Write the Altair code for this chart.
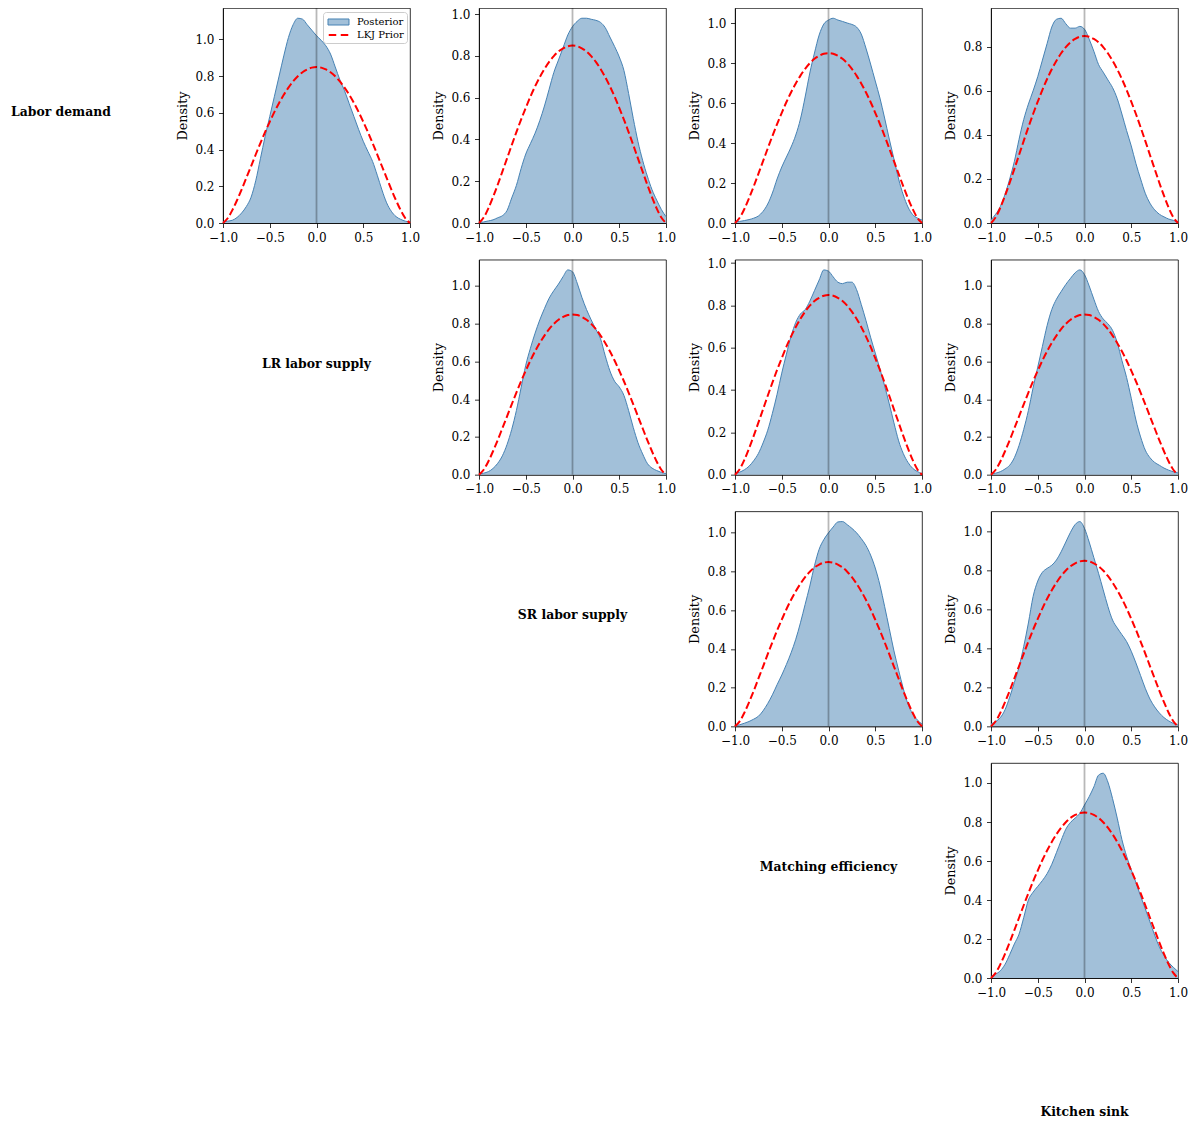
import altair as alt
import pandas as pd

# ---------------- data ----------------
x_grid = [round(-1 + 0.05 * i, 2) for i in range(41)]

variables = ["Labor demand", "LR labor supply", "SR labor supply",
             "Matching efficiency", "Kitchen sink"]

# LKJ prior marginal density (same in every panel)
prior = [0.0, 0.026, 0.070, 0.124, 0.183, 0.246, 0.309, 0.373, 0.435, 0.495,
         0.551, 0.605, 0.654, 0.698, 0.737, 0.771, 0.799, 0.821, 0.836, 0.846,
         0.849,
         0.846, 0.836, 0.821, 0.799, 0.771, 0.737, 0.698, 0.654, 0.605, 0.551,
         0.495, 0.435, 0.373, 0.309, 0.246, 0.183, 0.124, 0.070, 0.026, 0.0]

# posterior densities, upper triangle, row by row
post_1 = [0.005, 0.01, 0.015, 0.03, 0.055, 0.09, 0.14, 0.23, 0.35, 0.47, 0.58, 0.69, 0.80, 0.91,
          1.01, 1.08, 1.115, 1.11, 1.08, 1.05, 1.02, 0.995, 0.965, 0.92, 0.85, 0.78, 0.72, 0.65,
          0.58, 0.51, 0.445, 0.39, 0.335, 0.26, 0.18, 0.11, 0.064, 0.035, 0.02, 0.01, 0.005]
post_2 = [0.003, 0.005, 0.01, 0.015, 0.025, 0.035, 0.06, 0.12, 0.18, 0.26, 0.33, 0.38, 0.43, 0.49,
          0.56, 0.64, 0.72, 0.78, 0.84, 0.90, 0.94, 0.965, 0.98, 0.98, 0.975, 0.97, 0.96, 0.935,
          0.89, 0.845, 0.795, 0.73, 0.62, 0.50, 0.39, 0.30, 0.225, 0.16, 0.11, 0.065, 0.03]
post_3 = [0.005, 0.008, 0.012, 0.017, 0.024, 0.035, 0.058, 0.095, 0.15, 0.22, 0.28, 0.33, 0.38, 0.44,
          0.52, 0.63, 0.75, 0.85, 0.94, 0.995, 1.015, 1.024, 1.015, 1.008, 1.0, 0.993, 0.98, 0.945,
          0.875, 0.795, 0.71, 0.625, 0.525, 0.42, 0.32, 0.22, 0.14, 0.08, 0.042, 0.025, 0.015]
post_4 = [0.014, 0.04, 0.075, 0.13, 0.20, 0.28, 0.38, 0.47, 0.54, 0.60, 0.665, 0.74, 0.815, 0.89,
          0.925, 0.93, 0.905, 0.885, 0.885, 0.893, 0.88, 0.835, 0.78, 0.72, 0.685, 0.65, 0.615,
          0.565, 0.495, 0.42, 0.35, 0.27, 0.20, 0.135, 0.09, 0.06, 0.04, 0.028, 0.018, 0.012, 0.006]
post_5 = [0.003, 0.008, 0.016, 0.033, 0.06, 0.10, 0.16, 0.24, 0.34, 0.46, 0.58, 0.67, 0.75, 0.82,
          0.88, 0.935, 0.975, 1.01, 1.05, 1.085, 1.075, 1.015, 0.94, 0.875, 0.82, 0.77, 0.72, 0.63,
          0.55, 0.495, 0.465, 0.42, 0.34, 0.25, 0.17, 0.11, 0.06, 0.035, 0.022, 0.012, 0.005]
post_6 = [0.005, 0.012, 0.023, 0.04, 0.066, 0.10, 0.15, 0.21, 0.29, 0.38, 0.48, 0.57, 0.655, 0.72,
          0.76, 0.78, 0.82, 0.87, 0.92, 0.968, 0.962, 0.935, 0.91, 0.903, 0.91, 0.91, 0.875, 0.805,
          0.73, 0.65, 0.575, 0.50, 0.42, 0.335, 0.245, 0.16, 0.10, 0.058, 0.03, 0.015, 0.005]
post_7 = [0.004, 0.008, 0.016, 0.03, 0.05, 0.09, 0.155, 0.24, 0.34, 0.46, 0.57, 0.68, 0.79, 0.875,
          0.93, 0.97, 1.008, 1.04, 1.07, 1.085, 1.06, 1.0, 0.93, 0.865, 0.825, 0.80, 0.765, 0.70,
          0.605, 0.515, 0.405, 0.29, 0.20, 0.13, 0.09, 0.065, 0.05, 0.035, 0.024, 0.015, 0.009]
post_8 = [0.003, 0.008, 0.016, 0.025, 0.037, 0.052, 0.08, 0.118, 0.163, 0.215, 0.265, 0.32, 0.38,
          0.45, 0.535, 0.63, 0.725, 0.83, 0.915, 0.965, 1.0, 1.03, 1.056, 1.058, 1.042, 1.023, 1.0,
          0.97, 0.935, 0.885, 0.818, 0.73, 0.62, 0.505, 0.39, 0.29, 0.195, 0.115, 0.065, 0.033, 0.012]
post_9 = [0.012, 0.025, 0.045, 0.085, 0.15, 0.225, 0.305, 0.41, 0.53, 0.665, 0.745, 0.79, 0.81,
          0.826, 0.853, 0.895, 0.945, 0.995, 1.035, 1.05, 1.015, 0.945, 0.865, 0.785, 0.70, 0.615,
          0.545, 0.505, 0.47, 0.435, 0.385, 0.325, 0.26, 0.195, 0.14, 0.10, 0.069, 0.045, 0.028,
          0.015, 0.007]
post_10 = [0.008, 0.02, 0.037, 0.07, 0.12, 0.175, 0.225, 0.31, 0.40, 0.44, 0.47, 0.50, 0.535, 0.583,
           0.643, 0.705, 0.763, 0.798, 0.82, 0.845, 0.887, 0.93, 0.98, 1.04, 1.05, 1.005, 0.92,
           0.82, 0.71, 0.625, 0.555, 0.49, 0.42, 0.355, 0.288, 0.22, 0.16, 0.115, 0.08, 0.055, 0.033]

posteriors = [post_1, post_2, post_3, post_4, post_5, post_6, post_7, post_8, post_9, post_10]

legend_names = ["Posterior", "LKJ Prior"]
x_ticks = [-1.0, -0.5, 0.0, 0.5, 1.0]
y_tick_candidates = [0.0, 0.2, 0.4, 0.6, 0.8, 1.0, 1.2]

# ---------------- styling ----------------
FONT = "DejaVu Serif"
BLUE = "#4682b4"
BLUE_FILL = "#a2c0d9"
PANEL_W, PANEL_H = 187, 215
COL_SPACING = 69
ROW_SPACING = 36.67
COL0_W = 143
LAST_H = 100
LABEL_Y = 104
LAST_LABEL_Y = 97

RECT_PATH = "M-1.615,-0.462L1.615,-0.462L1.615,0.462L-1.615,0.462Z"
DASH_PATH = ("M-1.462,-0.077L-0.385,-0.077L-0.385,0.077L-1.462,0.077Z"
             "M0.385,-0.077L1.462,-0.077L1.462,0.077L0.385,0.077Z")


def panel(vals, with_legend):
    df = pd.DataFrame({"x": x_grid, "post": vals, "prior": prior})
    ymax = max(vals) * 1.05
    yticks = [t for t in y_tick_candidates if t <= ymax + 1e-9]
    xs = alt.Scale(domain=[-1, 1], nice=False, zero=False)
    ys = alt.Scale(domain=[0, ymax], nice=False, zero=False)
    xax = alt.Axis(values=x_ticks, format=".1f", title=None, labelFlush=False,
                   labelOverlap=False)
    yax = alt.Axis(values=yticks, format=".1f", title="Density", labelFlush=False,
                   labelOverlap=False, titlePadding=5)
    base = alt.Chart(df)
    area = base.mark_area(color=BLUE_FILL, interpolate="monotone").encode(
        x=alt.X("x:Q", scale=xs, axis=xax),
        y=alt.Y("post:Q", scale=ys, axis=yax),
    )
    edge = base.mark_line(color=BLUE, strokeWidth=1, interpolate="monotone").encode(
        x="x:Q", y="post:Q")
    pr = base.mark_line(color="#ff0000", strokeWidth=2, strokeDash=[7.4, 3.2],
                        interpolate="monotone").encode(x="x:Q", y="prior:Q")
    rule = alt.Chart(pd.DataFrame({"x0": [0.0]})).mark_rule(
        color="black", opacity=0.28, strokeWidth=1.8).encode(x="x0:Q")
    layers = [area, edge, pr, rule]
    if with_legend:
        leg = alt.Legend(title=None, orient="top-right", offset=3.5, padding=3,
                         fillColor="rgba(255,255,255,0.8)", strokeColor="#cccccc",
                         cornerRadius=3, labelFont=FONT, labelFontSize=10,
                         labelColor="black", symbolSize=169, symbolStrokeWidth=1,
                         symbolOffset=5.5, labelOffset=11.5, rowPadding=0,
                         symbolOpacity=1)
        ldf = pd.DataFrame({"series": legend_names})
        legend_layer = alt.Chart(ldf).transform_filter("false").mark_point(
            opacity=1, strokeWidth=1).encode(
            fill=alt.Fill("series:N", scale=alt.Scale(domain=legend_names,
                                                       range=[BLUE_FILL, "#ff0000"]),
                          legend=leg),
            stroke=alt.Stroke("series:N", scale=alt.Scale(domain=legend_names,
                                                           range=[BLUE, "#ff0000"]),
                              legend=leg),
            shape=alt.Shape("series:N", scale=alt.Scale(domain=legend_names,
                                                         range=[RECT_PATH, DASH_PATH]),
                            legend=leg),
        )
        layers.append(legend_layer)
    return alt.layer(*layers).properties(
        width=PANEL_W, height=PANEL_H,
        view=alt.ViewBackground(stroke="black", strokeWidth=0.8),
    )


def label_cell(text, w, h, left, ypos):
    df = pd.DataFrame({"t": [text]})
    return alt.Chart(df).mark_text(
        font=FONT, fontSize=12.4, fontWeight="bold", color="black",
        align="left" if left else "center", baseline="middle",
    ).encode(
        text="t:N",
        x=alt.value(0 if left else w / 2),
        y=alt.value(ypos),
    ).properties(width=w, height=h)


def empty_cell(w, h):
    return alt.Chart(pd.DataFrame({"t": [""]})).mark_text().encode(
        text="t:N").properties(width=w, height=h)


cells = []
k = 0
for r in range(5):
    for c in range(5):
        w = COL0_W if c == 0 else PANEL_W
        h = PANEL_H if r < 4 else LAST_H
        if c == r:
            cells.append(label_cell(variables[r], w, h, left=(c == 0),
                                    ypos=LABEL_Y if r < 4 else LAST_LABEL_Y))
        elif c > r:
            cells.append(panel(posteriors[k], with_legend=(k == 0)))
            k += 1
        else:
            cells.append(empty_cell(w, h))

chart = alt.concat(
    *cells, columns=5, spacing={"row": ROW_SPACING, "column": COL_SPACING}
).properties(
    bounds="flush", align="each",
    padding={"left": 2, "top": -2, "right": 0, "bottom": 0},
).resolve_scale(
    fill="independent", stroke="independent", shape="independent"
).configure_view(
    stroke="transparent"
).configure_axis(
    labelFont=FONT, labelFontSize=12, labelColor="black",
    titleFont=FONT, titleFontSize=12.8, titleFontWeight="normal", titleColor="black",
    tickColor="black", tickSize=4.5, tickWidth=0.8,
    domainColor="black", domainWidth=0.8, labelPadding=4.5,
    grid=False, zindex=1,
)

chart.save("out.html", embed_options={"renderer": "svg", "actions": False})
